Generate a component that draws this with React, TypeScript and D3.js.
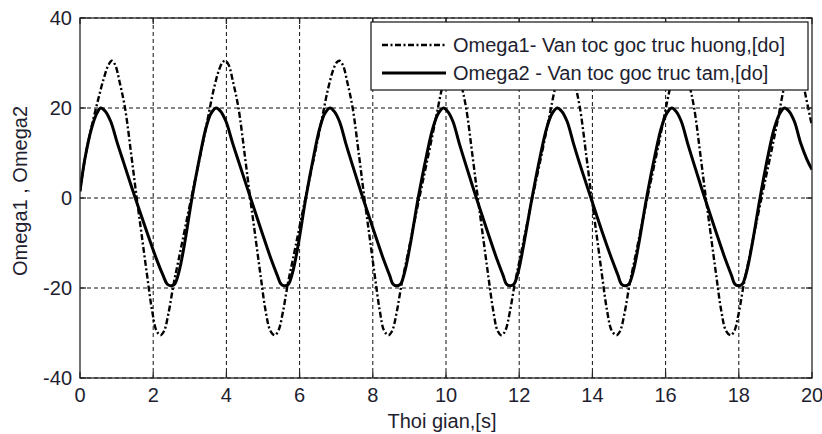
import React from 'react';
import * as d3 from 'd3';

const W = 822;
const H = 434;
const PLOT = { left: 80, right: 812, top: 18, bottom: 378 };

const xTicks = [0, 2, 4, 6, 8, 10, 12, 14, 16, 18, 20];
const yTicks = [-40, -20, 0, 20, 40];

const xLabel = 'Thoi gian,[s]';
const yLabel = 'Omega1 , Omega2';
const legendLabels = ['Omega1- Van toc goc truc huong,[do]', 'Omega2 - Van toc goc truc tam,[do]'];

// Omega1 (dash-dot)
const omega1Time = [
  0, 0.14, 0.32, 0.5, 0.64, 0.78, 0.87,
  0.96, 1.09, 1.23, 1.41, 1.55, 1.69, 1.83, 1.97, 2.09, 2.2, 2.3, 2.42, 2.56, 2.7, 3.04, 3.3, 3.5, 3.65, 3.8, 3.9, 3.97,
  4.06, 4.19, 4.33, 4.51, 4.65, 4.79, 4.93, 5.07, 5.2, 5.32, 5.42, 5.54, 5.68, 5.82, 6.16, 6.42, 6.62, 6.77, 6.92, 7.02, 7.09,
  7.18, 7.31, 7.45, 7.63, 7.77, 7.91, 8.05, 8.19, 8.31, 8.43, 8.53, 8.65, 8.79, 8.93, 9.27, 9.53, 9.73, 9.88, 10.03, 10.12, 10.19,
  10.28, 10.41, 10.55, 10.73, 10.87, 11.01, 11.15, 11.29, 11.41, 11.52, 11.62, 11.74, 11.88, 12.02, 12.36, 12.62, 12.82, 12.97, 13.12, 13.22, 13.3,
  13.39, 13.52, 13.66, 13.84, 13.98, 14.12, 14.26, 14.4, 14.53, 14.66, 14.76, 14.88, 15.02, 15.16, 15.5, 15.76, 15.96, 16.11, 16.26, 16.35, 16.42,
  16.51, 16.64, 16.78, 16.96, 17.1, 17.24, 17.38, 17.52, 17.65, 17.78, 17.88, 18.0, 18.14, 18.28, 18.62, 18.88, 19.08, 19.22, 19.35, 19.44, 19.52,
  19.6, 19.7, 19.82, 20,
];
const omega1Value = [
  1.5, 9, 16, 22, 26.3, 29.6, 30.5,
  29.6, 25.5, 20, 9, 0, -8.5, -17, -25, -29.5, -30.5, -29.5, -25.5, -19, -13.5, 0, 10, 18, 24, 28.5, 30.2, 30.5,
  29.6, 25.5, 20, 9, 0, -8.5, -17, -25, -29.5, -30.5, -29.5, -25.5, -19, -13.5, 0, 10, 18, 24, 28.5, 30.2, 30.5,
  29.6, 25.5, 20, 9, 0, -8.5, -17, -25, -29.5, -30.5, -29.5, -25.5, -19, -13.5, 0, 10, 18, 24, 28.5, 30.2, 30.5,
  29.6, 25.5, 20, 9, 0, -8.5, -17, -25, -29.5, -30.5, -29.5, -25.5, -19, -13.5, 0, 10, 18, 24, 28.5, 30.2, 30.5,
  29.6, 25.5, 20, 9, 0, -8.5, -17, -25, -29.5, -30.5, -29.5, -25.5, -19, -13.5, 0, 10, 18, 24, 28.5, 30.2, 30.5,
  29.6, 25.5, 20, 9, 0, -8.5, -17, -25, -29.5, -30.5, -29.5, -25.5, -19, -13.5, 0, 10, 18, 24, 28.5, 30.2, 30.5,
  30.3, 28, 23, 16,
];

// Omega2 (solid)
const omega2Time = [
  0, 0.14, 0.32, 0.46, 0.565,
  0.69, 0.84, 1.02, 1.2, 1.51, 1.83, 2.1, 2.27, 2.38, 2.48, 2.58, 2.7, 2.85, 3.06, 3.28, 3.44, 3.58, 3.72,
  3.84, 3.99, 4.17, 4.35, 4.66, 4.97, 5.23, 5.39, 5.49, 5.59, 5.69, 5.81, 5.96, 6.17, 6.39, 6.55, 6.69, 6.83,
  6.94, 7.09, 7.26, 7.43, 7.73, 8.04, 8.3, 8.46, 8.55, 8.65, 8.75, 8.87, 9.02, 9.24, 9.47, 9.64, 9.79, 9.93,
  10.04, 10.19, 10.36, 10.53, 10.83, 11.14, 11.4, 11.56, 11.65, 11.75, 11.85, 11.97, 12.12, 12.35, 12.58, 12.75, 12.9, 13.04,
  13.16, 13.31, 13.48, 13.65, 13.96, 14.27, 14.54, 14.7, 14.79, 14.89, 14.99, 15.11, 15.26, 15.48, 15.71, 15.88, 16.03, 16.17,
  16.28, 16.43, 16.6, 16.77, 17.07, 17.38, 17.64, 17.8, 17.89, 17.99, 18.09, 18.21, 18.36, 18.58, 18.8, 18.97, 19.12, 19.25,
  19.37, 19.52, 19.69, 19.86, 20,
];
const omega2Value = [
  1.5, 9, 15.6, 18.8, 20,
  19.3, 17, 12.2, 7.7, 0, -7.6, -13.8, -17.2, -19.1, -19.5, -19.2, -16.5, -10.5, 0, 9.5, 15.5, 18.8, 20,
  19.3, 17, 12.2, 7.7, 0, -7.6, -13.8, -17.2, -19.1, -19.5, -19.2, -16.5, -10.5, 0, 9.5, 15.5, 18.8, 20,
  19.3, 17, 12.2, 7.7, 0, -7.6, -13.8, -17.2, -19.1, -19.5, -19.2, -16.5, -10.5, 0, 9.5, 15.5, 18.8, 20,
  19.3, 17, 12.2, 7.7, 0, -7.6, -13.8, -17.2, -19.1, -19.5, -19.2, -16.5, -10.5, 0, 9.5, 15.5, 18.8, 20,
  19.3, 17, 12.2, 7.7, 0, -7.6, -13.8, -17.2, -19.1, -19.5, -19.2, -16.5, -10.5, 0, 9.5, 15.5, 18.8, 20,
  19.3, 17, 12.2, 7.7, 0, -7.6, -13.8, -17.2, -19.1, -19.5, -19.2, -16.5, -10.5, 0, 9.5, 15.5, 18.8, 20,
  19.3, 17, 12.2, 8.6, 6.3,
];

const FONT = '"Liberation Sans", Arial, sans-serif';
const TEXT = '#1e1e30';
const FS = 20;
const DASHDOT = '6,2.5,2,2.5';

export default function App() {
  const x = d3.scaleLinear().domain([0, 20]).range([PLOT.left, PLOT.right]);
  const y = d3.scaleLinear().domain([-40, 40]).range([PLOT.bottom, PLOT.top]);

  const line = d3
    .line<[number, number]>()
    .x((d) => x(d[0]))
    .y((d) => y(d[1]))
    .curve(d3.curveCatmullRom.alpha(0.5));

  const s1 = omega1Time.map((t, i) => [t, omega1Value[i]] as [number, number]);
  const s2 = omega2Time.map((t, i) => [t, omega2Value[i]] as [number, number]);

  const leg = { x0: 371, x1: 808, y0: 22, y1: 90 };
  const rows = [45, 73];

  return (
    <svg
      width={W}
      height={H}
      style={{ position: 'fixed', left: 0, top: 0, background: '#fff' }}
      fontFamily={FONT}
    >
      <rect x={0} y={0} width={W} height={H} fill="#fff" />
      <defs>
        <clipPath id="plotclip">
          <rect x={PLOT.left} y={PLOT.top} width={PLOT.right - PLOT.left} height={PLOT.bottom - PLOT.top} />
        </clipPath>
      </defs>

      {/* grid */}
      <g stroke="#111" strokeWidth={1} strokeDasharray="4,3">
        {xTicks.slice(1, -1).map((t) => (
          <line key={'gx' + t} x1={x(t)} x2={x(t)} y1={PLOT.top} y2={PLOT.bottom} />
        ))}
        {yTicks.map((t) => (
          <line key={'gy' + t} x1={PLOT.left} x2={PLOT.right} y1={y(t)} y2={y(t)} />
        ))}
      </g>

      {/* curves */}
      <g clipPath="url(#plotclip)" fill="none">
        <path d={line(s1) || ''} stroke="#000" strokeWidth={2.4} strokeDasharray={DASHDOT} />
        <path d={line(s2) || ''} stroke="#000" strokeWidth={3} strokeLinejoin="round" />
      </g>

      {/* axes box */}
      <rect
        x={PLOT.left}
        y={PLOT.top}
        width={PLOT.right - PLOT.left}
        height={PLOT.bottom - PLOT.top}
        fill="none"
        stroke="#262626"
        strokeWidth={1.3}
      />
      {/* ticks */}
      <g stroke="#262626" strokeWidth={1.3}>
        {xTicks.map((t) => (
          <g key={'tx' + t}>
            <line x1={x(t)} x2={x(t)} y1={PLOT.bottom} y2={PLOT.bottom - 6} />
            <line x1={x(t)} x2={x(t)} y1={PLOT.top} y2={PLOT.top + 6} />
          </g>
        ))}
        {yTicks.map((t) => (
          <g key={'ty' + t}>
            <line x1={PLOT.left} x2={PLOT.left + 6} y1={y(t)} y2={y(t)} />
            <line x1={PLOT.right} x2={PLOT.right - 6} y1={y(t)} y2={y(t)} />
          </g>
        ))}
      </g>

      {/* tick labels */}
      <g fill={TEXT} fontSize={FS}>
        {xTicks.map((t) => (
          <text key={'lx' + t} x={x(t)} y={PLOT.bottom + 24} textAnchor="middle">
            {t}
          </text>
        ))}
        {yTicks.map((t) => (
          <text key={'ly' + t} x={PLOT.left - 8} y={y(t) + 7} textAnchor="end">
            {t}
          </text>
        ))}
      </g>

      {/* axis labels */}
      <text x={(PLOT.left + PLOT.right) / 2 - 4} y={428} textAnchor="middle" fontSize={FS} fill={TEXT}>
        {xLabel}
      </text>
      <text
        transform={`translate(27, 191) rotate(-90)`}
        textAnchor="middle"
        fontSize={FS}
        fill={TEXT}
      >
        {yLabel}
      </text>

      {/* legend */}
      <rect x={leg.x0} y={leg.y0} width={leg.x1 - leg.x0} height={leg.y1 - leg.y0} fill="#fff" stroke="#111" strokeWidth={1.2} />
      <line x1={382} x2={446} y1={rows[0]} y2={rows[0]} stroke="#000" strokeWidth={2.4} strokeDasharray={DASHDOT} />
      <line x1={382} x2={446} y1={rows[1]} y2={rows[1]} stroke="#000" strokeWidth={3} />
      {legendLabels.map((l, i) => (
        <text key={l} x={453} y={rows[i] + 7} fontSize={FS} fill={TEXT}>
          {l}
        </text>
      ))}
    </svg>
  );
}
